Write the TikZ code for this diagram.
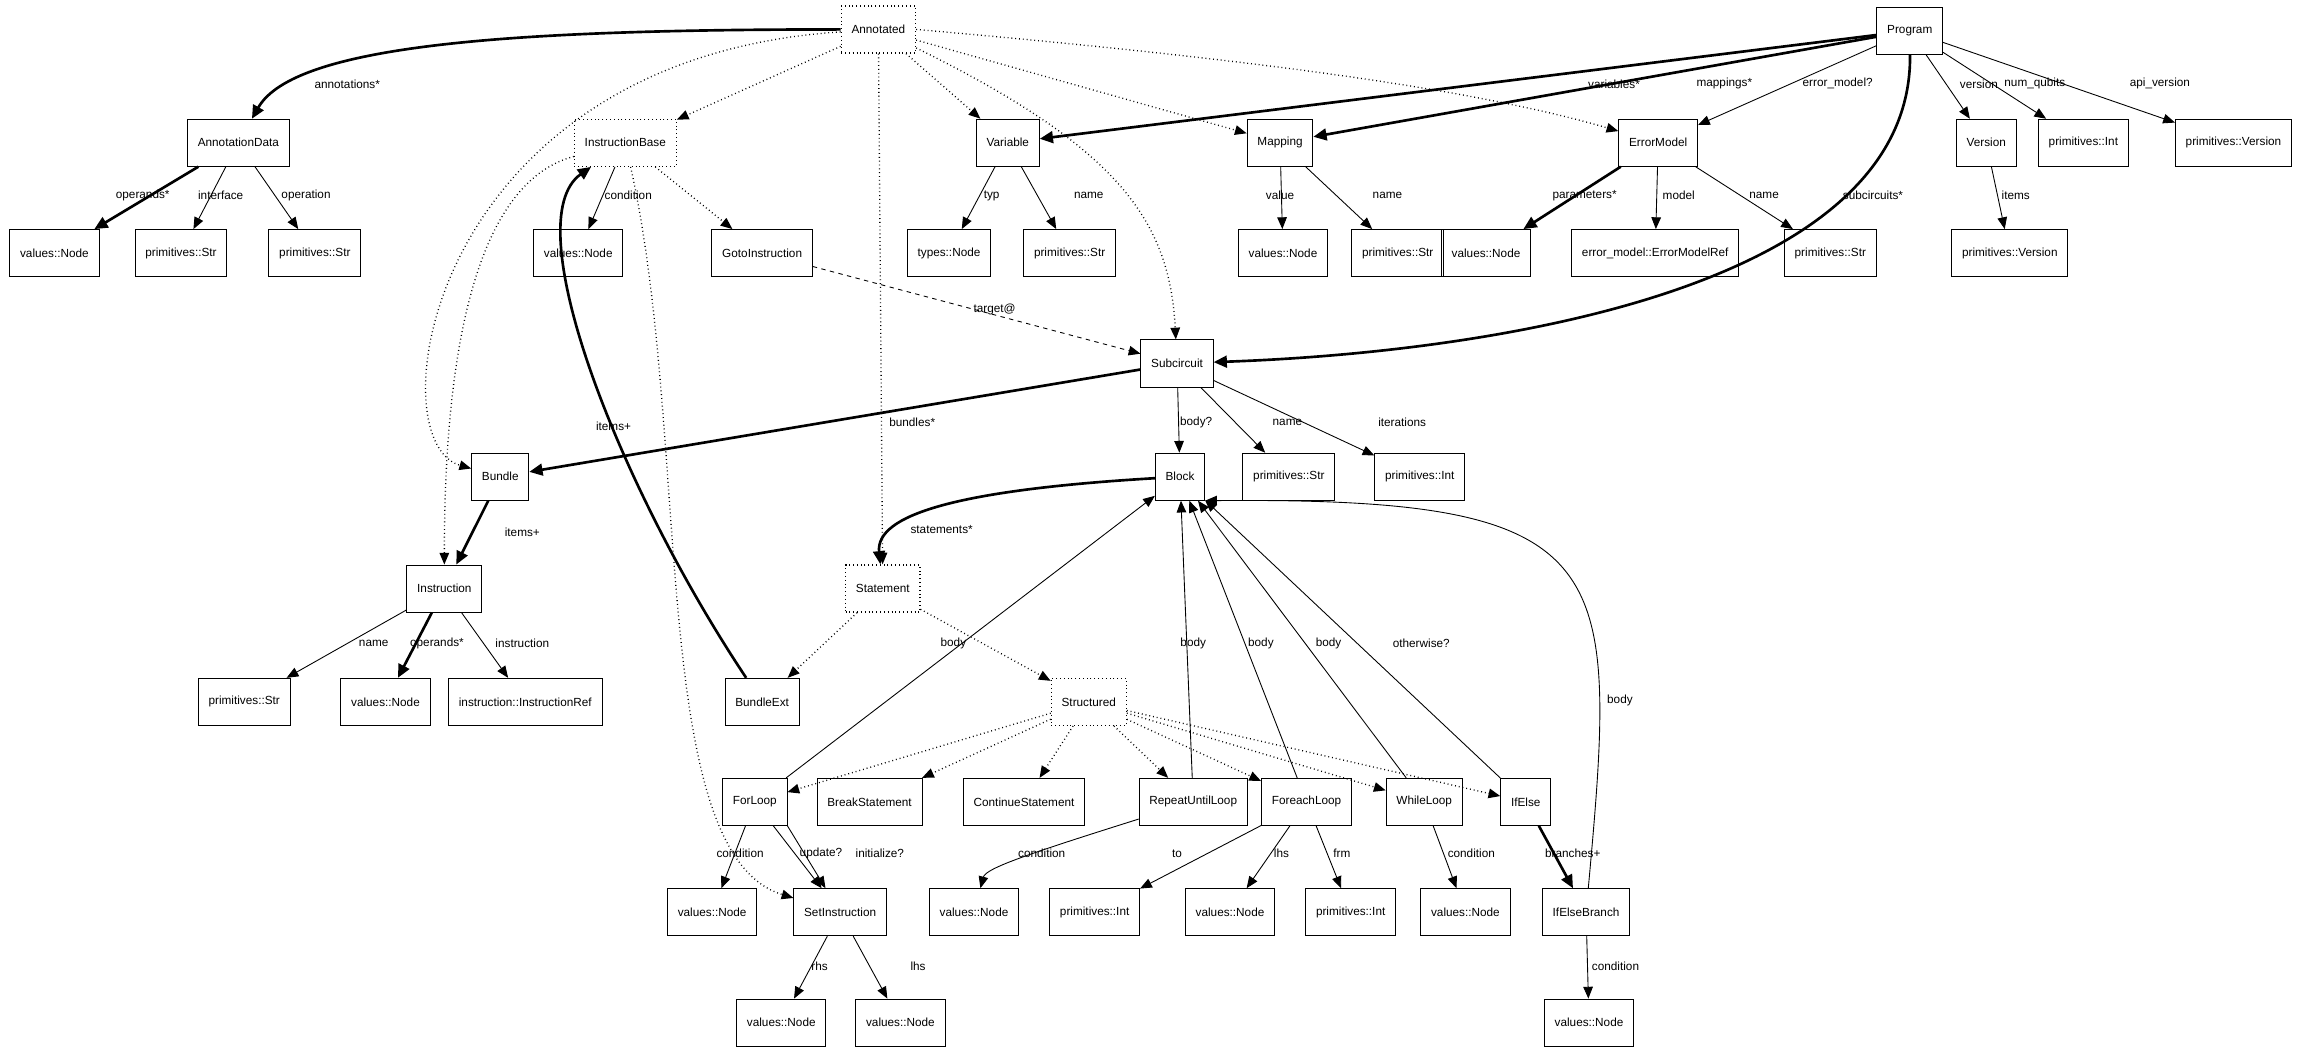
\documentclass[tikz,border=0pt]{standalone}
\usepackage{fontspec}
\setmainfont{Liberation Sans}
\usetikzlibrary{arrows.meta}
\begin{document}
\begin{tikzpicture}[x=1pt,y=-1pt,
 box/.style={draw,rectangle,minimum height=32pt,inner xsep=7pt,font=\fontsize{8}{9}\selectfont,line width=0.6pt},
 abs/.style={box,dotted,line width=0.9pt},
 e/.style={-{Triangle[length=8pt,width=6.5pt]},line width=0.6pt},
 t/.style={e,line width=1.8pt,-{Triangle[length=9pt,width=8pt]}},
 inh/.style={e,dotted,line width=0.9pt},
 lab/.style={font=\fontsize{8}{9}\selectfont,inner sep=0pt}]
\useasboundingbox (0,0) rectangle (1568,717);
% nodes
\node[abs] (Annotated) at (597,20) {Annotated};
\node[box] (Program) at (1298,21) {Program};
\node[box] (AD) at (162,97) {AnnotationData};
\node[abs] (IB) at (425,97) {InstructionBase};
\node[box] (Var) at (685,97) {Variable};
\node[box] (Map) at (870,97) {Mapping};
\node[box] (EM) at (1127,97) {ErrorModel};
\node[box] (Ver) at (1350,97) {Version};
\node[box] (PInt) at (1416,97) {primitives::Int};
\node[box] (PVer) at (1518,97) {primitives::Version};
\node[box] (n1) at (37,172) {values::Node};
\node[box] (n2) at (123,172) {primitives::Str};
\node[box] (n3) at (214,172) {primitives::Str};
\node[box] (n4) at (393,172) {values::Node};
\node[box] (Goto) at (518,172) {GotoInstruction};
\node[box] (n5) at (645,172) {types::Node};
\node[box] (n6) at (727,172) {primitives::Str};
\node[box] (n7) at (872,172) {values::Node};
\node[box] (n8) at (950,172) {primitives::Str};
\node[box] (n9) at (1010,172) {values::Node};
\node[box] (n10) at (1125,172) {error\_model::ErrorModelRef};
\node[box] (n11) at (1244,172) {primitives::Str};
\node[box] (n12) at (1366,172) {primitives::Version};
\node[box] (Sub) at (800,247) {Subcircuit};
\node[box] (Bundle) at (340,324) {Bundle};
\node[box] (Block) at (802,324) {Block};
\node[box] (n13) at (876,324) {primitives::Str};
\node[box] (n14) at (965,324) {primitives::Int};
\node[abs] (Stmt) at (600,400) {Statement};
\node[box] (Instr) at (302,400) {Instruction};
\node[box] (n15) at (166,477) {primitives::Str};
\node[box] (n16) at (262,477) {values::Node};
\node[box] (n17) at (357,477) {instruction::InstructionRef};
\node[box] (BExt) at (518,477) {BundleExt};
\node[abs] (Struct) at (740,477) {Structured};
\node[box] (For) at (513,545) {ForLoop};
\node[box] (Break) at (591,545) {BreakStatement};
\node[box] (Cont) at (696,545) {ContinueStatement};
\node[box] (Rep) at (811,545) {RepeatUntilLoop};
\node[box] (Fe) at (888,545) {ForeachLoop};
\node[box] (While) at (968,545) {WhileLoop};
\node[box] (If) at (1037,545) {IfElse};
\node[box] (n18) at (484,620) {values::Node};
\node[box] (Set) at (571,620) {SetInstruction};
\node[box] (n19) at (662,620) {values::Node};
\node[box] (n20) at (744,620) {primitives::Int};
\node[box] (n21) at (836,620) {values::Node};
\node[box] (n22) at (918,620) {primitives::Int};
\node[box] (n23) at (996,620) {values::Node};
\node[box] (IEB) at (1078,620) {IfElseBranch};
\node[box] (n24) at (531,695) {values::Node};
\node[box] (n25) at (612,695) {values::Node};
\node[box] (n26) at (1080,695) {values::Node};
% inheritance
\draw[inh] (Annotated) -- (IB);
\draw[inh] (Annotated) -- (Var);
\draw[inh] (Annotated) -- (Map);
\draw[inh] (Annotated.east) .. controls (850,40) and (1000,60) .. (EM);
\draw[inh] (Annotated) .. controls (760,100) and (795,150) .. (Sub);
\draw[inh] (Annotated) .. controls (290,40) and (255,300) .. (Bundle);
\draw[inh] (Annotated) -- (Stmt);
\draw[inh] (IB) .. controls (320,125) and (302,250) .. (Instr);
\draw[inh] (IB) -- (Goto);
\draw[inh] (IB) .. controls (470,300) and (440,580) .. (Set);
\draw[inh] (Stmt) -- (BExt);
\draw[inh] (Stmt) -- (Struct);
\foreach \x in {For,Break,Cont,Rep,Fe,While,If} \draw[inh] (Struct) -- (\x);
% program
\draw[t] (Program) -- (Var);
\draw[t] (Program) -- (Map);
\draw[e] (Program) -- (EM);
\draw[t] (Program) .. controls (1300,200) and (1000,240) .. (Sub);
\draw[e] (Program) -- (Ver);
\draw[e] (Program) -- (PInt);
\draw[e] (Program) -- (PVer);
\draw[t] (Annotated) .. controls (350,20) and (200,30) .. (AD);
\draw[t] (AD) -- (n1);
\draw[e] (AD) -- (n2);
\draw[e] (AD) -- (n3);
\draw[e] (IB) -- (n4);
\draw[e] (Var) -- (n5);
\draw[e] (Var) -- (n6);
\draw[e] (Map) -- (n7);
\draw[e] (Map) -- (n8);
\draw[t] (EM) -- (n9);
\draw[e] (EM) -- (n10);
\draw[e] (EM) -- (n11);
\draw[e] (Ver) -- (n12);
\draw[e,dashed] (Goto) -- (Sub);
\draw[t] (Sub) -- (Bundle);
\draw[e] (Sub) -- (Block);
\draw[e] (Sub) -- (n13);
\draw[e] (Sub) -- (n14);
\draw[t] (Bundle) -- (Instr);
\draw[t] (Block) .. controls (650,333) and (595,350) .. (Stmt);
\draw[t] (BExt) .. controls (420,330) and (350,150) .. (IB);
\draw[e] (Instr) -- (n15);
\draw[t] (Instr) -- (n16);
\draw[e] (Instr) -- (n17);
\draw[e] (For) -- (Block);
\draw[e] (For) -- (n18);
\draw[e] (For) -- (Set);
\draw[e] (For.south east) -- (Set);
\draw[e] (Rep) -- (Block);
\draw[e] (Rep) .. controls (700,580) and (670,590) .. (n19);
\draw[e] (Fe) -- (Block);
\draw[e] (Fe) -- (n20);
\draw[e] (Fe) -- (n21);
\draw[e] (Fe) -- (n22);
\draw[e] (While) -- (Block);
\draw[e] (While) -- (n23);
\draw[e] (If) -- (Block);
\draw[t] (If) -- (IEB);
\draw[e] (IEB) .. controls (1100,380) and (1100,338) .. (Block.south east);
\draw[e] (IEB) -- (n26);
\draw[e] (Set) -- (n24);
\draw[e] (Set) -- (n25);
% labels
\node[lab] (l1) at (236,57) {annotations*};
\node[lab] (l2) at (97,133) {operands*};
\node[lab] (l3) at (150,133) {interface};
\node[lab] (l4) at (208,133) {operation};
\node[lab] (l5) at (427,133) {condition};
\node[lab] (l6) at (417,290) {items+};
\node[lab] (l7) at (674,133) {typ};
\node[lab] (l8) at (740,133) {name};
\node[lab] (l9) at (870,133) {value};
\node[lab] (l10) at (943,133) {name};
\node[lab] (l11) at (1077,133) {parameters*};
\node[lab] (l12) at (1141,133) {model};
\node[lab] (l13) at (1199,133) {name};
\node[lab] (l14) at (1097,57) {variables*};
\node[lab] (l15) at (1172,57) {mappings*};
\node[lab] (l16) at (1249,57) {error\_model?};
\node[lab] (l17) at (1345,57) {version};
\node[lab] (l18) at (1383,57) {num\_qubits};
\node[lab] (l19) at (1468,57) {api\_version};
\node[lab] (l20) at (1273,133) {subcircuits*};
\node[lab] (l21) at (1370,133) {items};
\node[lab] (l22) at (676,210) {target@};
\node[lab] (l23) at (620,287) {bundles*};
\node[lab] (l24) at (813,287) {body?};
\node[lab] (l25) at (875,287) {name};
\node[lab] (l26) at (953,287) {iterations};
\node[lab] (l27) at (355,362) {items+};
\node[lab] (l28) at (640,360) {statements*};
\node[lab] (l29) at (254,437) {name};
\node[lab] (l30) at (297,437) {operands*};
\node[lab] (l31) at (355,437) {instruction};
\node[lab] (l32) at (648,437) {body};
\node[lab] (l33) at (811,437) {body};
\node[lab] (l34) at (857,437) {body};
\node[lab] (l35) at (903,437) {body};
\node[lab] (l36) at (966,437) {otherwise?};
\node[lab] (l37) at (1101,476) {body};
\node[lab] (l38) at (503,580) {condition};
\node[lab] (l39) at (558,580) {update?};
\node[lab] (l40) at (598,580) {initialize?};
\node[lab] (l41) at (708,580) {condition};
\node[lab] (l42) at (800,580) {to};
\node[lab] (l43) at (871,580) {lhs};
\node[lab] (l44) at (912,580) {frm};
\node[lab] (l45) at (1000,580) {condition};
\node[lab] (l46) at (1069,580) {branches+};
\node[lab] (l47) at (1098,657) {condition};
\node[lab] (l48) at (557,657) {rhs};
\node[lab] (l49) at (624,657) {lhs};
\end{tikzpicture}
\end{document}
